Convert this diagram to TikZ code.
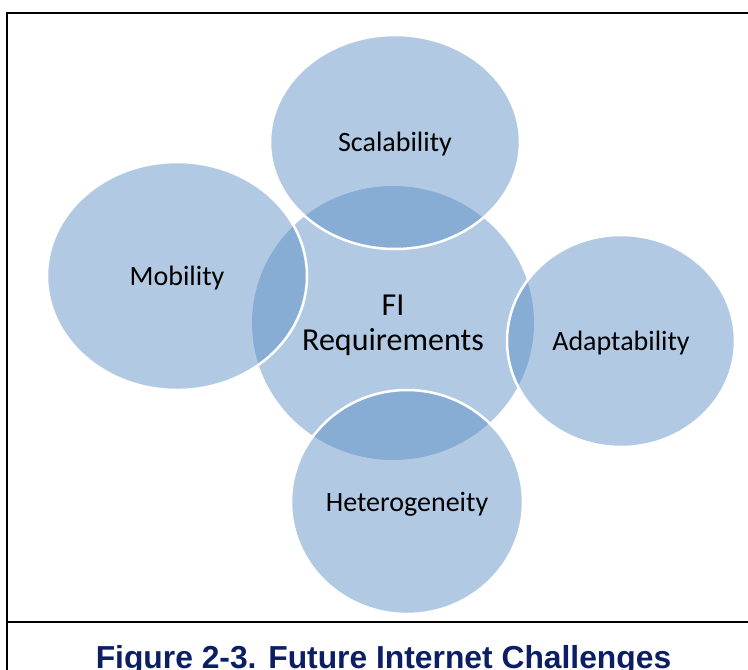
\documentclass[tikz,border=0pt]{standalone}
\usepackage{fontspec}
\setmainfont{Carlito}
\newfontfamily\capfont{Liberation Sans}
\usetikzlibrary{shapes.geometric}
\definecolor{fiblue}{RGB}{91,143,197}
\definecolor{capnavy}{RGB}{12,30,100}

\begin{document}
\begin{tikzpicture}[x=1pt,y=-1pt,
	bubble/.style={ellipse,fill=fiblue,fill opacity=0.48,text opacity=1,draw=white,line width=2.5pt,inner sep=0pt,text depth=0pt,font=\fontsize{28}{32}\selectfont},
	hub/.style={bubble,draw=none,align=center,font=\fontsize{32}{35}\selectfont}]
	\clip (0,0) rectangle (748,670);
	% frame and caption rule
	\draw[line width=2pt] (7,13) rectangle (770,700);
	\draw[line width=2pt] (7,622) -- (770,622);
	% centre first, the others on top
	\node[hub,minimum width=282pt,minimum height=274pt] (fi) at (393,323) {FI\\Requirements};
	\node[bubble,minimum width=250pt,minimum height=214pt] (scal) at (395,142) {Scalability};
	\node[bubble,minimum width=260pt,minimum height=228pt] (mob) at (177,276) {Mobility};
	\node[bubble,minimum width=228pt,minimum height=212pt] (adapt) at (621,341) {Adaptability};
	\node[bubble,minimum width=232pt,minimum height=224pt] (het) at (407,502) {Heterogeneity};
	\node[anchor=base,text=capnavy,font=\capfont\bfseries\fontsize{31.8}{36}\selectfont] (cap) at (383.5,668) {Figure 2-3. Future Internet Challenges};
\end{tikzpicture}
\end{document}
